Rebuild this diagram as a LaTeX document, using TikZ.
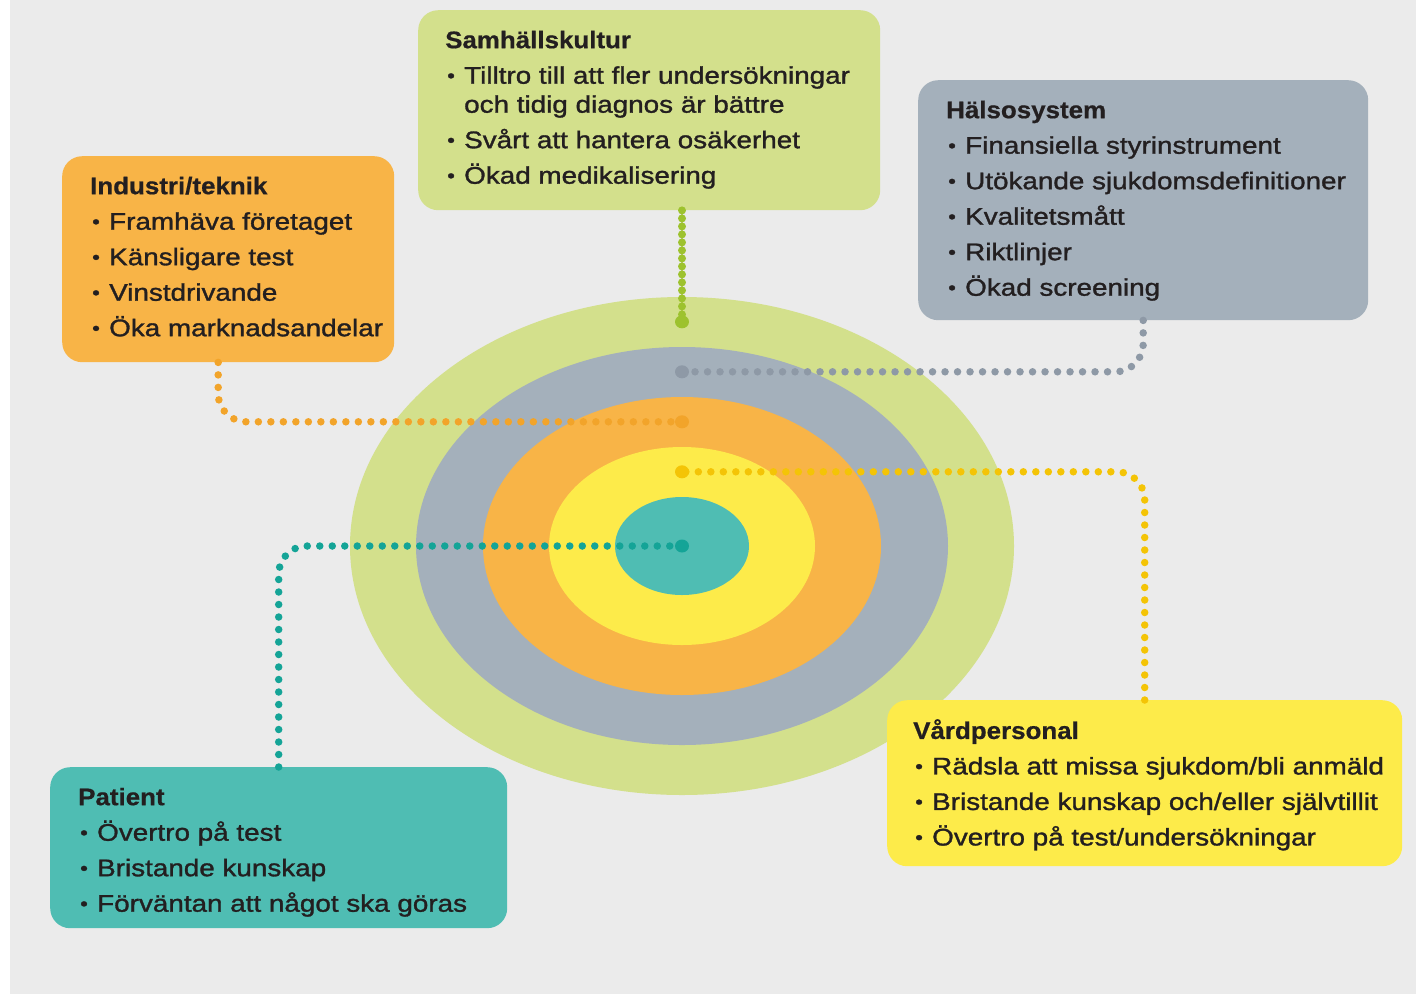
\documentclass[tikz,border=0pt]{standalone}
\usepackage{fontspec}
\usetikzlibrary{shapes.geometric,calc}
\newfontfamily\bodyfont[FakeStretch=1.16,FakeBold=1.3]{Liberation Sans}
\newfontfamily\titlefont[FakeStretch=1.08,FakeBold=0.6]{Liberation Sans}
\definecolor{bg}{HTML}{EBEBEB}
\definecolor{rgreen}{HTML}{D3E08C}
\definecolor{rgrey}{HTML}{A4B0BB}
\definecolor{rorange}{HTML}{F8B447}
\definecolor{ryellow}{HTML}{FDEB4A}
\definecolor{rteal}{HTML}{4FBDB3}
\definecolor{cgreen}{HTML}{9DC22E}
\definecolor{cgrey}{HTML}{8E99A6}
\definecolor{corange}{HTML}{F2A42A}
\definecolor{cyellow}{HTML}{F4C406}
\definecolor{cteal}{HTML}{14A497}
\definecolor{ink}{HTML}{231F20}
\newcommand\ttl[1]{{\titlefont\bfseries\rule{0pt}{19pt}#1}}
\newcommand\bul{\makebox[19pt][l]{\hspace{2pt}\raisebox{1.5pt}{\fontsize{19}{19}\selectfont •}}}
\newcommand\ind{\hspace*{19pt}}
\tikzset{
  boxnode/.style={rounded corners=20pt, inner sep=0pt, anchor=north west, draw=none},
  txt/.style={anchor=north west, inner sep=0pt, align=left, text=ink,
    font=\bodyfont\fontsize{24}{29}\selectfont},
  ring/.style={ellipse, inner sep=0pt, draw=none},
  conn/.style={line width=7.5pt, line cap=round, dash pattern=on 0pt off 12.5pt, rounded corners=28pt},
}
\begin{document}
\begin{tikzpicture}[x=1pt,y=-1pt]
\useasboundingbox (0,0) rectangle (1416,994);
\fill[white] (0,0) rectangle (1416,994);
\fill[bg] (10,0) rectangle (1416,994);
% rings
\node[ring, fill=rgreen, minimum width=664pt, minimum height=498pt] (r1) at (682,546) {};
\node[ring, fill=rgrey, minimum width=532pt, minimum height=398pt] (r2) at (682,546) {};
\node[ring, fill=rorange, minimum width=398pt, minimum height=298pt] (r3) at (682,546) {};
\node[ring, fill=ryellow, minimum width=266pt, minimum height=198pt] (r4) at (682,546) {};
\node[ring, fill=rteal, minimum width=134pt, minimum height=98pt] (r5) at (682,546) {};
\coordinate (eG) at ($(r1.north)!0.5!(r2.north)$);
\coordinate (eH) at ($(r2.north)!0.5!(r3.north)$);
\coordinate (eO) at ($(r3.north)!0.5!(r4.north)$);
\coordinate (eY) at ($(r4.north)!0.5!(r5.north)$);
\coordinate (eT) at (r5.center);
% boxes
\node[boxnode, fill=rgreen, minimum width=462pt, minimum height=200pt] (sam) at (418,10) {};
\node[boxnode, fill=rorange, minimum width=332pt, minimum height=206pt] (ind) at (62,156) {};
\node[boxnode, fill=rgrey, minimum width=450pt, minimum height=240pt] (hal) at (918,80) {};
\node[boxnode, fill=ryellow, minimum width=515pt, minimum height=166pt] (vard) at (887,700) {};
\node[boxnode, fill=rteal, minimum width=457pt, minimum height=161pt] (pat) at (50,767) {};
% connectors
\draw[conn, draw=cgreen, line width=8pt, dash pattern=on 0pt off 8pt] (sam.south -| eG) -- (eG);
\draw[conn, draw=cgrey] (hal.south) |- (eH);
\draw[conn, draw=corange] ([xshift=-10pt]ind.south) |- (eO);
\draw[conn, draw=cyellow] (vard.north) |- (eY);
\draw[conn, draw=cteal] (pat.north) |- (eT);
\fill[cgreen] (eG) ellipse [x radius=7pt, y radius=6.5pt];
\fill[cgrey] (eH) ellipse [x radius=7pt, y radius=6.5pt];
\fill[corange] (eO) ellipse [x radius=7pt, y radius=6.5pt];
\fill[cyellow] (eY) ellipse [x radius=7pt, y radius=6.5pt];
\fill[cteal] (eT) ellipse [x radius=7pt, y radius=6.5pt];
% texts
\node[txt] (samt) at ([xshift=27pt,yshift=-19pt]sam.north west) {%
\ttl{Samhällskultur}\\[6.5pt]
\bul Tilltro till att fler undersökningar\\
\ind och tidig diagnos är bättre\\[6.5pt]
\bul Svårt att hantera osäkerhet\\[6.5pt]
\bul Ökad medikalisering};
\node[txt] (indt) at ([xshift=28pt,yshift=-19pt]ind.north west) {%
\ttl{Industri/teknik}\\[6.5pt]
\bul Framhäva företaget\\[6.5pt]
\bul Känsligare test\\[6.5pt]
\bul Vinstdrivande\\[6.5pt]
\bul Öka marknadsandelar};
\node[txt] (halt) at ([xshift=28pt,yshift=-19pt]hal.north west) {%
\ttl{Hälsosystem}\\[6.5pt]
\bul Finansiella styrinstrument\\[6.5pt]
\bul Utökande sjukdomsdefinitioner\\[6.5pt]
\bul Kvalitetsmått\\[6.5pt]
\bul Riktlinjer\\[6.5pt]
\bul Ökad screening};
\node[txt] (vardt) at ([xshift=26pt,yshift=-19pt]vard.north west) {%
\ttl{Vårdpersonal}\\[6.5pt]
\bul Rädsla att missa sjukdom/bli anmäld\\[6.5pt]
\bul Bristande kunskap och/eller självtillit\\[6.5pt]
\bul Övertro på test/undersökningar};
\node[txt] (patt) at ([xshift=28pt,yshift=-19pt]pat.north west) {%
\ttl{Patient}\\[6.5pt]
\bul Övertro på test\\[6.5pt]
\bul Bristande kunskap\\[6.5pt]
\bul Förväntan att något ska göras};
\end{tikzpicture}
\end{document}
